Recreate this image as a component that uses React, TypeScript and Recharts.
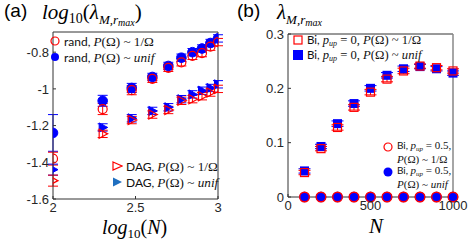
import React from "react";
import { ScatterChart, Scatter, XAxis, YAxis, ErrorBar, ReferenceLine } from "recharts";

// N values (panel b x) and their log10 (panel a x)
const nValues = [100, 200, 300, 400, 500, 600, 700, 800, 900, 1000];
const logN = nValues.map((n) => Math.log10(n));

// panel (a): log10(lambda)
const rand1 = [-1.38, -1.11, -1.007, -0.945, -0.885, -0.855, -0.82, -0.805, -0.77, -0.745];
const randU = [-1.24, -1.065, -0.995, -0.935, -0.875, -0.83, -0.8, -0.78, -0.75, -0.725];
const rand1Err = [0.035, 0.03, 0.025, 0.02, 0.02, 0.02, 0.02, 0.02, 0.02, 0.02];
const randUErr = [0.1, 0.03, 0.025, 0.02, 0.02, 0.02, 0.02, 0.02, 0.02, 0.02];
const dag1 = [-1.5, -1.245, -1.17, -1.14, -1.115, -1.065, -1.056, -1.04, -1.02, -1.0];
const dagU = [-1.44, -1.21, -1.16, -1.12, -1.1, -1.056, -1.03, -1.01, -0.995, -0.975];
const dag1Err = [0.03, 0.02, 0.02, 0.02, 0.02, 0.02, 0.02, 0.02, 0.02, 0.02];
const dagUErr = [0.03, 0.02, 0.02, 0.02, 0.02, 0.02, 0.02, 0.02, 0.02, 0.02];

// panel (b): lambda
const bi1 = [0.045, 0.089, 0.128, 0.165, 0.193, 0.217, 0.232, 0.241, 0.238, 0.232];
const biU = [0.048, 0.093, 0.135, 0.172, 0.2, 0.224, 0.236, 0.24, 0.236, 0.228];
const biErr = [0.004, 0.004, 0.005, 0.005, 0.005, 0.005, 0.005, 0.004, 0.004, 0.004];
const biHalf1 = [0, 0, 0, 0, 0, 0, 0, 0, 0, 0];
const biHalfU = [0, 0, 0, 0, 0, 0, 0, 0, 0, 0];

const aXTicks = [2, 2.5, 3];
const aYTicks = [-1.6, -1.4, -1.2, -1, -0.8];
const bXTicks = [0, 500, 1000];
const bYTicks = [0, 0.1, 0.2, 0.3];

const RED = "#ff0000";
const BLUE = "#0000ff";
const AX = "#333333";

const mk = (xs: number[], ys: number[], es?: number[]) =>
  xs.map((x, i) => ({ x, y: ys[i], e: es ? es[i] : 0 }));

const openCircle = (p: any) => <circle cx={p.cx} cy={p.cy} r={4.5} fill="none" stroke={RED} strokeWidth={1.2} />;
const fullCircle = (p: any) => <circle cx={p.cx} cy={p.cy} r={4.8} fill={BLUE} stroke={BLUE} />;
const ringCircle = (p: any) => <circle cx={p.cx} cy={p.cy} r={4.8} fill="none" stroke={RED} strokeWidth={1.4} />;
const triPts = (cx: number, cy: number) => `${cx - 3.5},${cy - 4.5} ${cx + 5},${cy} ${cx - 3.5},${cy + 4.5}`;
const openTri = (p: any) => <polygon points={triPts(p.cx, p.cy)} fill="none" stroke={RED} strokeWidth={1.2} />;
const fullTri = (p: any) => <polygon points={triPts(p.cx, p.cy)} fill={BLUE} stroke={BLUE} />;
const openSq = (p: any) => <rect x={p.cx - 4} y={p.cy - 4} width={8} height={8} fill="none" stroke={RED} strokeWidth={1.2} />;
const fullSq = (p: any) => <rect x={p.cx - 4.5} y={p.cy - 4.5} width={9} height={9} fill={BLUE} />;

const tickStyle = { fontFamily: "'Liberation Sans', Arial, sans-serif", fontSize: 13, fill: "#262626" };
const serif = "'Liberation Serif', 'Times New Roman', serif";
const sans = "Lato, 'Noto Sans', sans-serif";

function Math_({ children }: any) {
  return <span style={{ fontFamily: serif, fontStyle: "italic", fontSize: "1.1em" }}>{children}</span>;
}
function Up({ children }: any) {
  return <span style={{ fontFamily: serif, fontStyle: "normal", fontSize: "1.1em" }}>{children}</span>;
}
function Sub({ children }: any) {
  return <span style={{ fontFamily: serif, fontStyle: "italic", fontSize: "0.7em", position: "relative", top: 2 }}>{children}</span>;
}

function LegendRow({ x, y, marker, fs = 12, children }: any) {
  return (
    <div style={{ position: "absolute", left: x, top: y - 5.5, height: 11, lineHeight: "11px", display: "flex", alignItems: "center", fontSize: fs, fontFamily: sans, color: "#111", whiteSpace: "nowrap" }}>
      <svg width={12} height={12} style={{ marginRight: 3, flex: "none" }}>{marker}</svg>
      <span>{children}</span>
    </div>
  );
}

function TextRow({ x, y, fs = 10, children }: any) {
  return (
    <div style={{ position: "absolute", left: x, top: y - 5.5, height: 11, lineHeight: "11px", fontSize: fs, fontFamily: sans, color: "#111", whiteSpace: "nowrap" }}>
      {children}
    </div>
  );
}

export default function App() {
  return (
    <div style={{ position: "absolute", left: 0, top: 0, width: 475, height: 245, background: "#fff", overflow: "hidden" }}>
      <div style={{ position: "absolute", left: 0, top: 0 }}>
        <ScatterChart width={240} height={245} margin={{ top: 32, right: 22, bottom: 16, left: 0 }}>
          <XAxis type="number" dataKey="x" domain={[2, 3]} ticks={aXTicks} height={30} tick={tickStyle}
            stroke={AX} tickSize={-3} tickMargin={7} allowDataOverflow />
          <YAxis type="number" dataKey="y" domain={[-1.6, -0.69]} ticks={aYTicks} width={53} tick={tickStyle}
            stroke={AX} tickSize={-3} tickMargin={7} tickFormatter={(v: number) => String(v)} allowDataOverflow />
          <ReferenceLine y={-0.69} stroke={AX} />
          <ReferenceLine x={3} stroke={AX} />
          <Scatter data={mk(logN, randU, randUErr)} shape={fullCircle} isAnimationActive={false}>
            <ErrorBar dataKey="e" direction="y" width={5} stroke={BLUE} strokeWidth={1} />
          </Scatter>
          <Scatter data={mk(logN, rand1, rand1Err)} shape={openCircle} isAnimationActive={false}>
            <ErrorBar dataKey="e" direction="y" width={5} stroke={RED} strokeWidth={1} />
          </Scatter>
          <Scatter data={mk(logN, dagU, dagUErr)} shape={fullTri} isAnimationActive={false}>
            <ErrorBar dataKey="e" direction="y" width={5} stroke={BLUE} strokeWidth={1} />
          </Scatter>
          <Scatter data={mk(logN, dag1, dag1Err)} shape={openTri} isAnimationActive={false}>
            <ErrorBar dataKey="e" direction="y" width={5} stroke={RED} strokeWidth={1} />
          </Scatter>
        </ScatterChart>
      </div>
      <div style={{ position: "absolute", left: 240, top: 0 }}>
        <ScatterChart width={235} height={245} margin={{ top: 34, right: 22, bottom: 18, left: 0 }}>
          <XAxis type="number" dataKey="x" domain={[0, 1000]} ticks={bXTicks} height={30} tick={tickStyle}
            stroke={AX} tickSize={-3} tickMargin={7} />
          <YAxis type="number" dataKey="y" domain={[0, 0.3]} ticks={bYTicks} width={48} tick={tickStyle}
            stroke={AX} tickSize={-3} tickMargin={7} tickFormatter={(v: number) => String(v)} />
          <ReferenceLine y={0.3} stroke={AX} />
          <ReferenceLine x={1000} stroke="#888" strokeWidth={1.5} />
          <Scatter data={mk(nValues, biU, biErr)} shape={fullSq} isAnimationActive={false}>
            <ErrorBar dataKey="e" direction="y" width={6} stroke={BLUE} strokeWidth={1} />
          </Scatter>
          <Scatter data={mk(nValues, bi1, biErr)} shape={openSq} isAnimationActive={false}>
            <ErrorBar dataKey="e" direction="y" width={6} stroke={RED} strokeWidth={1} />
          </Scatter>
          <Scatter data={mk(nValues, biHalfU)} shape={fullCircle} isAnimationActive={false} />
          <Scatter data={mk(nValues, biHalf1)} shape={ringCircle} isAnimationActive={false} />
        </ScatterChart>
      </div>

      {/* titles */}
      <div style={{ position: "absolute", left: 4, top: 0, fontSize: 19, fontFamily: "'Liberation Sans', Arial, sans-serif" }}>(a)</div>
      <div style={{ position: "absolute", left: 42, top: 0, fontSize: 21, fontFamily: serif, fontStyle: "italic", whiteSpace: "nowrap" }}>
        log<span style={{ fontSize: 14, fontStyle: "normal", position: "relative", top: 4 }}>10</span><span style={{ fontStyle: "normal" }}>(</span>λ
        <span style={{ fontSize: 13, position: "relative", top: 5 }}>M,r<span style={{ fontSize: 10, position: "relative", top: 2 }}>max</span></span><span style={{ fontStyle: "normal" }}>)</span>
      </div>
      <div style={{ position: "absolute", left: 237, top: 0, fontSize: 19, fontFamily: "'Liberation Sans', Arial, sans-serif" }}>(b)</div>
      <div style={{ position: "absolute", left: 277, top: 0, fontSize: 21, fontFamily: serif, fontStyle: "italic", whiteSpace: "nowrap" }}>
        λ<span style={{ fontSize: 13, position: "relative", top: 5 }}>M,r<span style={{ fontSize: 10, position: "relative", top: 2 }}>max</span></span>
      </div>

      {/* x labels */}
      <div style={{ position: "absolute", left: 102, top: 216, fontSize: 20, fontFamily: serif, fontStyle: "italic", whiteSpace: "nowrap" }}>
        log<span style={{ fontSize: 13, fontStyle: "normal", position: "relative", top: 4 }}>10</span><span style={{ fontStyle: "normal" }}>(</span>N<span style={{ fontStyle: "normal" }}>)</span>
      </div>
      <div style={{ position: "absolute", left: 369, top: 214, fontSize: 21, fontFamily: serif, fontStyle: "italic" }}>N</div>

      {/* legends (a) */}
      <LegendRow x={49} y={41} marker={<circle cx={6} cy={6} r={4} fill="none" stroke={RED} strokeWidth={1.2} />}>
        rand, <Math_>P</Math_><Up>(Ω) ~ 1/Ω</Up>
      </LegendRow>
      <LegendRow x={49} y={57} marker={<circle cx={6} cy={6} r={4} fill={BLUE} />}>
        rand, <Math_>P</Math_><Up>(Ω) ~ </Up><Math_>unif</Math_>
      </LegendRow>
      <LegendRow x={111} y={166} marker={<polygon points="2,2 11,6 2,10" fill="none" stroke={RED} strokeWidth={1.2} />}>
        DAG, <Math_>P</Math_><Up>(Ω) ~ 1/Ω</Up>
      </LegendRow>
      <LegendRow x={111} y={182} marker={<polygon points="2,1.5 11,6 2,10.5" fill="#1f6fc0" />}>
        DAG, <Math_>P</Math_><Up>(Ω) ~ </Up><Math_>unif</Math_>
      </LegendRow>

      {/* legends (b) */}
      <LegendRow x={292} y={40} fs={11.5} marker={<rect x={2} y={2} width={8} height={8} fill="none" stroke={RED} strokeWidth={1.2} />}>
        Bi, <Math_>p</Math_><Sub>up</Sub><Up> = 0, </Up><Math_>P</Math_><Up>(Ω) ~ 1/Ω</Up>
      </LegendRow>
      <LegendRow x={292} y={55} fs={11.5} marker={<rect x={1} y={1} width={10} height={10} fill={BLUE} />}>
        Bi, <Math_>p</Math_><Sub>up</Sub><Up> = 0, </Up><Math_>P</Math_><Up>(Ω) ~ </Up><Math_>unif</Math_>
      </LegendRow>
      <LegendRow x={382} y={146.5} fs={10} marker={<circle cx={6} cy={6} r={4} fill="none" stroke={RED} strokeWidth={1.2} />}>
        Bi, <Math_>p</Math_><Sub>up</Sub><Up> = 0.5,</Up>
      </LegendRow>
      <TextRow x={397} y={159}>
        <Math_>P</Math_><Up>(Ω) ~ 1/Ω</Up>
      </TextRow>
      <LegendRow x={382} y={171.5} fs={10} marker={<circle cx={6} cy={6} r={4.5} fill={BLUE} />}>
        Bi, <Math_>p</Math_><Sub>up</Sub><Up> = 0.5,</Up>
      </LegendRow>
      <TextRow x={397} y={184}>
        <Math_>P</Math_><Up>(Ω) ~ </Up><Math_>unif</Math_>
      </TextRow>
    </div>
  );
}
